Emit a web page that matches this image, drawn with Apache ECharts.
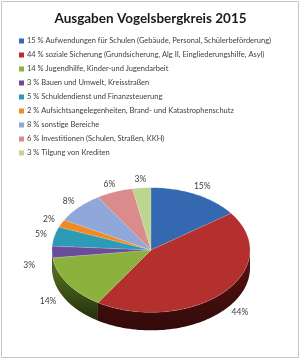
<!DOCTYPE html>
<html>
<head>
<meta charset="utf-8">
<script src="https://cdn.jsdelivr.net/npm/echarts@6/dist/echarts.min.js"></script>
<style>
  html, body { margin: 0; padding: 0; background: #fff; }
  #chart { width: 301px; height: 360px; }
</style>
</head>
<body>
<div id="chart"></div>
<script>
const titleText = 'Ausgaben Vogelsbergkreis 2015';
const categories = [
  'Aufwendungen für Schulen (Gebäude, Personal, Schülerbeförderung)',
  'soziale Sicherung (Grundsicherung, Alg II, Eingliederungshilfe, Asyl)',
  'Jugendhilfe, Kinder-und Jugendarbeit',
  'Bauen und Umwelt, Kreisstraßen',
  'Schuldendienst und Finanzsteuerung',
  'Aufsichtsangelegenheiten, Brand- und Katastrophenschutz',
  'sonstige Bereiche',
  'Investitionen (Schulen, Straßen, KKH)',
  'Tilgung von Krediten'
];
const shares = [15, 44, 14, 3, 5, 2, 8, 6, 3];
const topColors = ['#3468b1', '#b3302e', '#8cb23d', '#6b4c9a', '#2e9bb6', '#f28a22', '#8fa8d9', '#d98c8b', '#bcd68f'];
const sideColors = ['#1f3f6e', '#5a1212', '#5d7a22', '#43305f', '#1c6072', '#96551a', '#5b6a8a', '#8a5857', '#7a8a5c'];

const depth = 18;     // thickness of the pie
const squash = 0.63;  // vertical tilt of the pie

const chart = echarts.init(document.getElementById('chart'));

let acc = 0;
const ranges = shares.map(v => {
  const r = [1, acc, acc + v];
  acc += v;
  return r;
});

function renderSlice(i) {
  return function (params, api) {
    const s = api.value(1), e = api.value(2);
    const c = api.coord([0, 0]);
    const pt = (r, a) => {
      const p = api.coord([r, a]);
      return [p[0], c[1] + (p[1] - c[1]) * squash];
    };
    const children = [];

    // front side wall
    const fs = Math.max(s, 25), fe = Math.min(e, 75);
    if (fe > fs) {
      const n = Math.max(2, Math.ceil((fe - fs) / 0.5));
      const upper = [], lower = [];
      for (let k = 0; k <= n; k++) {
        const p = pt(1, fs + (fe - fs) * k / n);
        upper.push(p);
        lower.push([p[0], p[1] + depth]);
      }
      children.push({
        type: 'polygon',
        shape: { points: upper.concat(lower.reverse()) },
        style: {
          fill: new echarts.graphic.LinearGradient(0, 0, 0, 1, [
            { offset: 0, color: sideColors[i] },
            { offset: 1, color: echarts.color.modifyHSL(sideColors[i], null, null, 0.12) }
          ])
        }
      });
    }

    // top surface
    const steps = Math.max(2, Math.ceil((e - s) / 0.5));
    const top = [[c[0], c[1]]];
    for (let k = 0; k <= steps; k++) top.push(pt(1, s + (e - s) * k / steps));
    children.push({
      type: 'polygon',
      shape: { points: top },
      style: { fill: topColors[i], stroke: 'rgba(255,255,255,0.25)', lineWidth: 0.5 }
    });

    // percentage label
    const lp = pt(1.14, (s + e) / 2);
    if (lp[1] > c[1]) {
      lp[1] += depth * 0.75;
      lp[0] += (lp[0] - c[0]) * 0.08;
    }
    children.push({
      type: 'text',
      x: lp[0],
      y: lp[1],
      style: {
        text: shares[i] + '%',
        fill: '#404040',
        font: '8.5px Lato',
        align: 'center',
        verticalAlign: 'middle'
      }
    });
    return { type: 'group', children: children };
  };
}

const option = {
  animation: false,
  title: {
    text: titleText,
    left: 'center',
    top: 7,
    textStyle: { fontFamily: 'Lato', fontWeight: 'bold', fontSize: 13.5, color: '#1a1a1a' }
  },
  legend: {
    orient: 'vertical',
    left: 19,
    top: 36,
    padding: 0,
    itemGap: 4,
    itemWidth: 5,
    itemHeight: 5,
    icon: 'rect',
    textStyle: { fontFamily: 'Lato', fontSize: 7.5, color: '#404040', lineHeight: 10, padding: [0, 0, 0, -2] },
    data: categories.map((c, i) => shares[i] + ' % ' + c)
  },
  polar: { center: [151, 250], radius: 99 },
  angleAxis: {
    type: 'value', min: 0, max: 100, startAngle: 90, clockwise: true,
    axisLine: { show: false }, axisTick: { show: false }, axisLabel: { show: false }, splitLine: { show: false }
  },
  radiusAxis: {
    type: 'value', min: 0, max: 1,
    axisLine: { show: false }, axisTick: { show: false }, axisLabel: { show: false }, splitLine: { show: false }
  },
  graphic: [{
    type: 'rect',
    shape: { x: 1.5, y: 1.5, width: 297, height: 356 },
    style: { fill: 'none', stroke: '#c4c4c4', lineWidth: 1 },
    silent: true,
    z: -10
  }],
  series: categories.map((c, i) => ({
    type: 'custom',
    name: shares[i] + ' % ' + c,
    coordinateSystem: 'polar',
    itemStyle: { color: topColors[i] },
    renderItem: renderSlice(i),
    data: [ranges[i]]
  }))
};

chart.setOption(option);
</script>
</body>
</html>
